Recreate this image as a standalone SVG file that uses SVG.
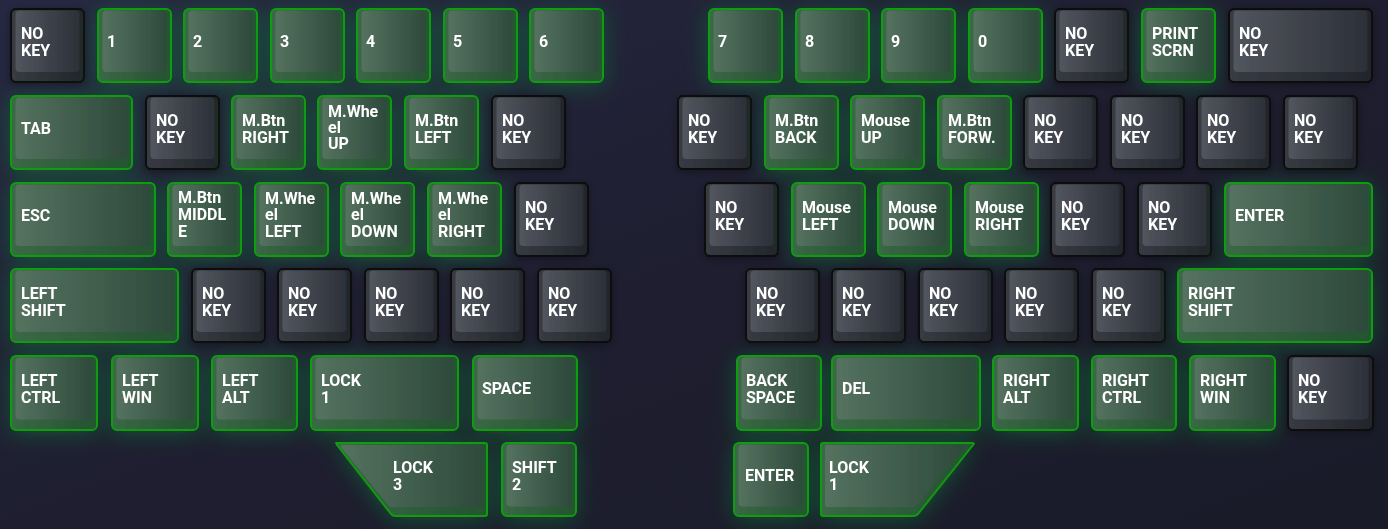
<svg xmlns="http://www.w3.org/2000/svg" width="1388" height="529" viewBox="0 0 1388 529">
<defs>
<linearGradient id="bg" x1="0" y1="0" x2="1" y2="1">
<stop offset="0" stop-color="#262842"/>
<stop offset="0.5" stop-color="#1e1e30"/>
<stop offset="1" stop-color="#1a1b29"/>
</linearGradient>
<linearGradient id="gface" x1="0" y1="0" x2="1" y2="0">
<stop offset="0" stop-color="#55725f"/>
<stop offset="1" stop-color="#2d4a3b"/>
</linearGradient>
<linearGradient id="gbody" x1="0" y1="0" x2="1" y2="0">
<stop offset="0" stop-color="#3a6846"/>
<stop offset="1" stop-color="#245330"/>
</linearGradient>
<linearGradient id="dface" x1="0" y1="0" x2="1" y2="0">
<stop offset="0" stop-color="#52555e"/>
<stop offset="1" stop-color="#2c3038"/>
</linearGradient>
<linearGradient id="dbody" x1="0" y1="0" x2="1" y2="0">
<stop offset="0" stop-color="#383b43"/>
<stop offset="1" stop-color="#22252b"/>
</linearGradient>
<filter id="glow" x="-40%" y="-40%" width="180%" height="180%">
<feDropShadow dx="0" dy="3" stdDeviation="11" flood-color="#1c9a34" flood-opacity="0.4"/>
</filter>
<filter id="shadow" x="-30%" y="-30%" width="160%" height="160%">
<feDropShadow dx="0" dy="2" stdDeviation="4" flood-color="#000" flood-opacity="0.35"/>
</filter>
</defs>
<style>
.g{filter:url(#glow)}
.d{filter:url(#shadow)}
.g .body{fill:url(#gbody);stroke:#0b9d0b;stroke-width:2;stroke-linejoin:round}
.g .face{fill:url(#gface)}
.d .body{fill:url(#dbody);stroke:#0a0a0c;stroke-width:2;stroke-linejoin:round}
.d .face{fill:url(#dface)}
text{font-family:Roboto,"Liberation Sans",sans-serif;font-weight:700;font-size:16px;fill:#ffffff}
</style>
<rect width="1388" height="529" fill="url(#bg)"/>

<!-- Row 1 -->
<g id="r1-nokey-l" class="d"><rect class="body" x="11" y="9" width="73" height="73" rx="5"/><rect class="face" x="15.5" y="10.5" width="64" height="61.5" rx="4"/><text x="21"><tspan x="21" y="39">NO</tspan><tspan x="21" y="56">KEY</tspan></text></g>
<g id="k-1" class="g"><rect class="body" x="98" y="9" width="73" height="73" rx="5"/><rect class="face" x="102.5" y="10.5" width="64" height="61.5" rx="4"/><text x="107" y="47">1</text></g>
<g id="k-2" class="g"><rect class="body" x="184" y="9" width="73" height="73" rx="5"/><rect class="face" x="188.5" y="10.5" width="64" height="61.5" rx="4"/><text x="193" y="47">2</text></g>
<g id="k-3" class="g"><rect class="body" x="271" y="9" width="73" height="73" rx="5"/><rect class="face" x="275.5" y="10.5" width="64" height="61.5" rx="4"/><text x="280" y="47">3</text></g>
<g id="k-4" class="g"><rect class="body" x="357" y="9" width="73" height="73" rx="5"/><rect class="face" x="361.5" y="10.5" width="64" height="61.5" rx="4"/><text x="366" y="47">4</text></g>
<g id="k-5" class="g"><rect class="body" x="444" y="9" width="73" height="73" rx="5"/><rect class="face" x="448.5" y="10.5" width="64" height="61.5" rx="4"/><text x="453" y="47">5</text></g>
<g id="k-6" class="g"><rect class="body" x="530" y="9" width="73" height="73" rx="5"/><rect class="face" x="534.5" y="10.5" width="64" height="61.5" rx="4"/><text x="539" y="47">6</text></g>
<g id="k-7" class="g"><rect class="body" x="709" y="9" width="73" height="73" rx="5"/><rect class="face" x="713.5" y="10.5" width="64" height="61.5" rx="4"/><text x="718" y="47">7</text></g>
<g id="k-8" class="g"><rect class="body" x="796" y="9" width="73" height="73" rx="5"/><rect class="face" x="800.5" y="10.5" width="64" height="61.5" rx="4"/><text x="805" y="47">8</text></g>
<g id="k-9" class="g"><rect class="body" x="882" y="9" width="73" height="73" rx="5"/><rect class="face" x="886.5" y="10.5" width="64" height="61.5" rx="4"/><text x="891" y="47">9</text></g>
<g id="k-0" class="g"><rect class="body" x="969" y="9" width="73" height="73" rx="5"/><rect class="face" x="973.5" y="10.5" width="64" height="61.5" rx="4"/><text x="978" y="47">0</text></g>
<g id="r1-nokey-r1" class="d"><rect class="body" x="1055" y="9" width="73" height="73" rx="5"/><rect class="face" x="1059.5" y="10.5" width="64" height="61.5" rx="4"/><text><tspan x="1065" y="39">NO</tspan><tspan x="1065" y="56">KEY</tspan></text></g>
<g id="k-print" class="g"><rect class="body" x="1142" y="9" width="73" height="73" rx="5"/><rect class="face" x="1146.5" y="10.5" width="64" height="61.5" rx="4"/><text><tspan x="1152" y="39">PRINT</tspan><tspan x="1152" y="56">SCRN</tspan></text></g>
<g id="r1-nokey-r2" class="d"><rect class="body" x="1229" y="9" width="143" height="73" rx="5"/><rect class="face" x="1233.5" y="10.5" width="134" height="61.5" rx="4"/><text><tspan x="1239" y="39">NO</tspan><tspan x="1239" y="56">KEY</tspan></text></g>

<!-- Row 2 -->
<g id="k-tab" class="g"><rect class="body" x="11" y="96" width="121" height="73" rx="5"/><rect class="face" x="15.5" y="97.5" width="112" height="61.5" rx="4"/><text x="21" y="134">TAB</text></g>
<g id="r2-nokey-l1" class="d"><rect class="body" x="146" y="96" width="73" height="73" rx="5"/><rect class="face" x="150.5" y="97.5" width="64" height="61.5" rx="4"/><text><tspan x="156" y="126">NO</tspan><tspan x="156" y="143">KEY</tspan></text></g>
<g id="k-mbtn-right" class="g"><rect class="body" x="232" y="96" width="73" height="73" rx="5"/><rect class="face" x="236.5" y="97.5" width="64" height="61.5" rx="4"/><text><tspan x="242" y="126">M.Btn</tspan><tspan x="242" y="143">RIGHT</tspan></text></g>
<g id="k-mwheel-up" class="g"><rect class="body" x="318" y="96" width="73" height="73" rx="5"/><rect class="face" x="322.5" y="97.5" width="64" height="61.5" rx="4"/><text><tspan x="328" y="117">M.Whe</tspan><tspan x="328" y="133">el</tspan><tspan x="328" y="149">UP</tspan></text></g>
<g id="k-mbtn-left" class="g"><rect class="body" x="405" y="96" width="73" height="73" rx="5"/><rect class="face" x="409.5" y="97.5" width="64" height="61.5" rx="4"/><text><tspan x="415" y="126">M.Btn</tspan><tspan x="415" y="143">LEFT</tspan></text></g>
<g id="r2-nokey-l2" class="d"><rect class="body" x="492" y="96" width="73" height="73" rx="5"/><rect class="face" x="496.5" y="97.5" width="64" height="61.5" rx="4"/><text><tspan x="502" y="126">NO</tspan><tspan x="502" y="143">KEY</tspan></text></g>
<g id="r2-nokey-r1" class="d"><rect class="body" x="678" y="96" width="73" height="73" rx="5"/><rect class="face" x="682.5" y="97.5" width="64" height="61.5" rx="4"/><text><tspan x="688" y="126">NO</tspan><tspan x="688" y="143">KEY</tspan></text></g>
<g id="k-mbtn-back" class="g"><rect class="body" x="765" y="96" width="73" height="73" rx="5"/><rect class="face" x="769.5" y="97.5" width="64" height="61.5" rx="4"/><text><tspan x="775" y="126">M.Btn</tspan><tspan x="775" y="143">BACK</tspan></text></g>
<g id="k-mouse-up" class="g"><rect class="body" x="851" y="96" width="73" height="73" rx="5"/><rect class="face" x="855.5" y="97.5" width="64" height="61.5" rx="4"/><text><tspan x="861" y="126">Mouse</tspan><tspan x="861" y="143">UP</tspan></text></g>
<g id="k-mbtn-forw" class="g"><rect class="body" x="938" y="96" width="73" height="73" rx="5"/><rect class="face" x="942.5" y="97.5" width="64" height="61.5" rx="4"/><text><tspan x="948" y="126">M.Btn</tspan><tspan x="948" y="143">FORW.</tspan></text></g>
<g id="r2-nokey-r2" class="d"><rect class="body" x="1024" y="96" width="73" height="73" rx="5"/><rect class="face" x="1028.5" y="97.5" width="64" height="61.5" rx="4"/><text><tspan x="1034" y="126">NO</tspan><tspan x="1034" y="143">KEY</tspan></text></g>
<g id="r2-nokey-r3" class="d"><rect class="body" x="1111" y="96" width="73" height="73" rx="5"/><rect class="face" x="1115.5" y="97.5" width="64" height="61.5" rx="4"/><text><tspan x="1121" y="126">NO</tspan><tspan x="1121" y="143">KEY</tspan></text></g>
<g id="r2-nokey-r4" class="d"><rect class="body" x="1197" y="96" width="73" height="73" rx="5"/><rect class="face" x="1201.5" y="97.5" width="64" height="61.5" rx="4"/><text><tspan x="1207" y="126">NO</tspan><tspan x="1207" y="143">KEY</tspan></text></g>
<g id="r2-nokey-r5" class="d"><rect class="body" x="1284" y="96" width="73" height="73" rx="5"/><rect class="face" x="1288.5" y="97.5" width="64" height="61.5" rx="4"/><text><tspan x="1294" y="126">NO</tspan><tspan x="1294" y="143">KEY</tspan></text></g>

<!-- Row 3 -->
<g id="k-esc" class="g"><rect class="body" x="11" y="183" width="144" height="73" rx="5"/><rect class="face" x="15.5" y="184.5" width="135" height="61.5" rx="4"/><text x="21" y="221">ESC</text></g>
<g id="k-mbtn-middle" class="g"><rect class="body" x="168" y="183" width="73" height="73" rx="5"/><rect class="face" x="172.5" y="184.5" width="64" height="61.5" rx="4"/><text><tspan x="178" y="203">M.Btn</tspan><tspan x="178" y="220">MIDDL</tspan><tspan x="178" y="237">E</tspan></text></g>
<g id="k-mwheel-left" class="g"><rect class="body" x="255" y="183" width="73" height="73" rx="5"/><rect class="face" x="259.5" y="184.5" width="64" height="61.5" rx="4"/><text><tspan x="265" y="204">M.Whe</tspan><tspan x="265" y="220">el</tspan><tspan x="265" y="237">LEFT</tspan></text></g>
<g id="k-mwheel-down" class="g"><rect class="body" x="341" y="183" width="73" height="73" rx="5"/><rect class="face" x="345.5" y="184.5" width="64" height="61.5" rx="4"/><text><tspan x="351" y="204">M.Whe</tspan><tspan x="351" y="220">el</tspan><tspan x="351" y="237">DOWN</tspan></text></g>
<g id="k-mwheel-right" class="g"><rect class="body" x="428" y="183" width="73" height="73" rx="5"/><rect class="face" x="432.5" y="184.5" width="64" height="61.5" rx="4"/><text><tspan x="438" y="204">M.Whe</tspan><tspan x="438" y="220">el</tspan><tspan x="438" y="237">RIGHT</tspan></text></g>
<g id="r3-nokey-l" class="d"><rect class="body" x="515" y="183" width="73" height="73" rx="5"/><rect class="face" x="519.5" y="184.5" width="64" height="61.5" rx="4"/><text><tspan x="525" y="213">NO</tspan><tspan x="525" y="230">KEY</tspan></text></g>
<g id="r3-nokey-r1" class="d"><rect class="body" x="705" y="183" width="73" height="73" rx="5"/><rect class="face" x="709.5" y="184.5" width="64" height="61.5" rx="4"/><text><tspan x="715" y="213">NO</tspan><tspan x="715" y="230">KEY</tspan></text></g>
<g id="k-mouse-left" class="g"><rect class="body" x="792" y="183" width="73" height="73" rx="5"/><rect class="face" x="796.5" y="184.5" width="64" height="61.5" rx="4"/><text><tspan x="802" y="213">Mouse</tspan><tspan x="802" y="230">LEFT</tspan></text></g>
<g id="k-mouse-down" class="g"><rect class="body" x="878" y="183" width="73" height="73" rx="5"/><rect class="face" x="882.5" y="184.5" width="64" height="61.5" rx="4"/><text><tspan x="888" y="213">Mouse</tspan><tspan x="888" y="230">DOWN</tspan></text></g>
<g id="k-mouse-right" class="g"><rect class="body" x="965" y="183" width="73" height="73" rx="5"/><rect class="face" x="969.5" y="184.5" width="64" height="61.5" rx="4"/><text><tspan x="975" y="213">Mouse</tspan><tspan x="975" y="230">RIGHT</tspan></text></g>
<g id="r3-nokey-r2" class="d"><rect class="body" x="1051" y="183" width="73" height="73" rx="5"/><rect class="face" x="1055.5" y="184.5" width="64" height="61.5" rx="4"/><text><tspan x="1061" y="213">NO</tspan><tspan x="1061" y="230">KEY</tspan></text></g>
<g id="r3-nokey-r3" class="d"><rect class="body" x="1138" y="183" width="73" height="73" rx="5"/><rect class="face" x="1142.5" y="184.5" width="64" height="61.5" rx="4"/><text><tspan x="1148" y="213">NO</tspan><tspan x="1148" y="230">KEY</tspan></text></g>
<g id="k-enter-r" class="g"><rect class="body" x="1225" y="183" width="147" height="73" rx="5"/><rect class="face" x="1229.5" y="184.5" width="138" height="61.5" rx="4"/><text x="1235" y="221">ENTER</text></g>

<!-- Row 4 -->
<g id="k-lshift" class="g"><rect class="body" x="11" y="269" width="167" height="73" rx="5"/><rect class="face" x="15.5" y="270.5" width="158" height="61.5" rx="4"/><text><tspan x="21" y="299">LEFT</tspan><tspan x="21" y="316">SHIFT</tspan></text></g>
<g id="r4-nokey-l1" class="d"><rect class="body" x="192" y="269" width="73" height="73" rx="5"/><rect class="face" x="196.5" y="270.5" width="64" height="61.5" rx="4"/><text><tspan x="202" y="299">NO</tspan><tspan x="202" y="316">KEY</tspan></text></g>
<g id="r4-nokey-l2" class="d"><rect class="body" x="278" y="269" width="73" height="73" rx="5"/><rect class="face" x="282.5" y="270.5" width="64" height="61.5" rx="4"/><text><tspan x="288" y="299">NO</tspan><tspan x="288" y="316">KEY</tspan></text></g>
<g id="r4-nokey-l3" class="d"><rect class="body" x="365" y="269" width="73" height="73" rx="5"/><rect class="face" x="369.5" y="270.5" width="64" height="61.5" rx="4"/><text><tspan x="375" y="299">NO</tspan><tspan x="375" y="316">KEY</tspan></text></g>
<g id="r4-nokey-l4" class="d"><rect class="body" x="451" y="269" width="73" height="73" rx="5"/><rect class="face" x="455.5" y="270.5" width="64" height="61.5" rx="4"/><text><tspan x="461" y="299">NO</tspan><tspan x="461" y="316">KEY</tspan></text></g>
<g id="r4-nokey-l5" class="d"><rect class="body" x="538" y="269" width="73" height="73" rx="5"/><rect class="face" x="542.5" y="270.5" width="64" height="61.5" rx="4"/><text><tspan x="548" y="299">NO</tspan><tspan x="548" y="316">KEY</tspan></text></g>
<g id="r4-nokey-r1" class="d"><rect class="body" x="746" y="269" width="73" height="73" rx="5"/><rect class="face" x="750.5" y="270.5" width="64" height="61.5" rx="4"/><text><tspan x="756" y="299">NO</tspan><tspan x="756" y="316">KEY</tspan></text></g>
<g id="r4-nokey-r2" class="d"><rect class="body" x="832" y="269" width="73" height="73" rx="5"/><rect class="face" x="836.5" y="270.5" width="64" height="61.5" rx="4"/><text><tspan x="842" y="299">NO</tspan><tspan x="842" y="316">KEY</tspan></text></g>
<g id="r4-nokey-r3" class="d"><rect class="body" x="919" y="269" width="73" height="73" rx="5"/><rect class="face" x="923.5" y="270.5" width="64" height="61.5" rx="4"/><text><tspan x="929" y="299">NO</tspan><tspan x="929" y="316">KEY</tspan></text></g>
<g id="r4-nokey-r4" class="d"><rect class="body" x="1005" y="269" width="73" height="73" rx="5"/><rect class="face" x="1009.5" y="270.5" width="64" height="61.5" rx="4"/><text><tspan x="1015" y="299">NO</tspan><tspan x="1015" y="316">KEY</tspan></text></g>
<g id="r4-nokey-r5" class="d"><rect class="body" x="1092" y="269" width="73" height="73" rx="5"/><rect class="face" x="1096.5" y="270.5" width="64" height="61.5" rx="4"/><text><tspan x="1102" y="299">NO</tspan><tspan x="1102" y="316">KEY</tspan></text></g>
<g id="k-rshift" class="g"><rect class="body" x="1178" y="269" width="194" height="73" rx="5"/><rect class="face" x="1182.5" y="270.5" width="185" height="61.5" rx="4"/><text><tspan x="1188" y="299">RIGHT</tspan><tspan x="1188" y="316">SHIFT</tspan></text></g>

<!-- Row 5 -->
<g id="k-lctrl" class="g"><rect class="body" x="11" y="356" width="86" height="74" rx="5"/><rect class="face" x="15.5" y="357.5" width="77" height="62" rx="4"/><text><tspan x="21" y="386">LEFT</tspan><tspan x="21" y="403">CTRL</tspan></text></g>
<g id="k-lwin" class="g"><rect class="body" x="112" y="356" width="86" height="74" rx="5"/><rect class="face" x="116.5" y="357.5" width="77" height="62" rx="4"/><text><tspan x="122" y="386">LEFT</tspan><tspan x="122" y="403">WIN</tspan></text></g>
<g id="k-lalt" class="g"><rect class="body" x="212" y="356" width="85" height="74" rx="5"/><rect class="face" x="216.5" y="357.5" width="76" height="62" rx="4"/><text><tspan x="222" y="386">LEFT</tspan><tspan x="222" y="403">ALT</tspan></text></g>
<g id="k-lock1-l" class="g"><rect class="body" x="311" y="356" width="147" height="74" rx="5"/><rect class="face" x="315.5" y="357.5" width="138" height="62" rx="4"/><text><tspan x="321" y="386">LOCK</tspan><tspan x="321" y="403">1</tspan></text></g>
<g id="k-space" class="g"><rect class="body" x="473" y="356" width="104" height="74" rx="5"/><rect class="face" x="477.5" y="357.5" width="95" height="62" rx="4"/><text x="482" y="394">SPACE</text></g>
<g id="k-backspace" class="g"><rect class="body" x="737" y="356" width="84" height="74" rx="5"/><rect class="face" x="741.5" y="357.5" width="75" height="62" rx="4"/><text><tspan x="746" y="386">BACK</tspan><tspan x="746" y="403">SPACE</tspan></text></g>
<g id="k-del" class="g"><rect class="body" x="832" y="356" width="148" height="74" rx="5"/><rect class="face" x="836.5" y="357.5" width="139" height="62" rx="4"/><text x="842" y="394">DEL</text></g>
<g id="k-ralt" class="g"><rect class="body" x="993" y="356" width="85" height="74" rx="5"/><rect class="face" x="997.5" y="357.5" width="76" height="62" rx="4"/><text><tspan x="1003" y="386">RIGHT</tspan><tspan x="1003" y="403">ALT</tspan></text></g>
<g id="k-rctrl" class="g"><rect class="body" x="1092" y="356" width="84" height="74" rx="5"/><rect class="face" x="1096.5" y="357.5" width="75" height="62" rx="4"/><text><tspan x="1102" y="386">RIGHT</tspan><tspan x="1102" y="403">CTRL</tspan></text></g>
<g id="k-rwin" class="g"><rect class="body" x="1190" y="356" width="85" height="74" rx="5"/><rect class="face" x="1194.5" y="357.5" width="76" height="62" rx="4"/><text><tspan x="1200" y="386">RIGHT</tspan><tspan x="1200" y="403">WIN</tspan></text></g>
<g id="r5-nokey-r" class="d"><rect class="body" x="1288" y="356" width="85" height="74" rx="5"/><rect class="face" x="1292.5" y="357.5" width="76" height="62" rx="4"/><text><tspan x="1298" y="386">NO</tspan><tspan x="1298" y="403">KEY</tspan></text></g>

<!-- Row 6 -->
<g id="k-lock3" class="g"><path class="body" d="M336,443 L485,443 Q487,443 487,445 L487,514 Q487,516 485,516 L395,516 Q393,516 391,514 L337,445 Q336,443 338,443 Z"/><path class="face" d="M343,445 L481,445 Q483,445 483,447 L483,505 Q483,507 481,507 L391,507 Q389,507 388,505 L341,447 Q340,445 343,445 Z"/><text><tspan x="393" y="473">LOCK</tspan><tspan x="393" y="490">3</tspan></text></g>
<g id="k-shift2" class="g"><rect class="body" x="502" y="443" width="74" height="73" rx="5"/><rect class="face" x="506.5" y="444.5" width="65" height="62" rx="4"/><text><tspan x="512" y="473">SHIFT</tspan><tspan x="512" y="490">2</tspan></text></g>
<g id="k-enter-b" class="g"><rect class="body" x="734" y="443" width="74" height="73" rx="5"/><rect class="face" x="738.5" y="444.5" width="65" height="62" rx="4"/><text x="745" y="481">ENTER</text></g>
<g id="k-lock1-r" class="g"><path class="body" d="M823,443 L972,443 Q975,443 973,445 L918,514 Q916,516 913,516 L823,516 Q821,516 821,514 L821,445 Q821,443 823,443 Z"/><path class="face" d="M827,445 L964,445 Q967,445 965,447 L917,505 Q915,507 913,507 L827,507 Q825,507 825,505 L825,447 Q825,445 827,445 Z"/><text><tspan x="829" y="473">LOCK</tspan><tspan x="829" y="490">1</tspan></text></g>
</svg>
